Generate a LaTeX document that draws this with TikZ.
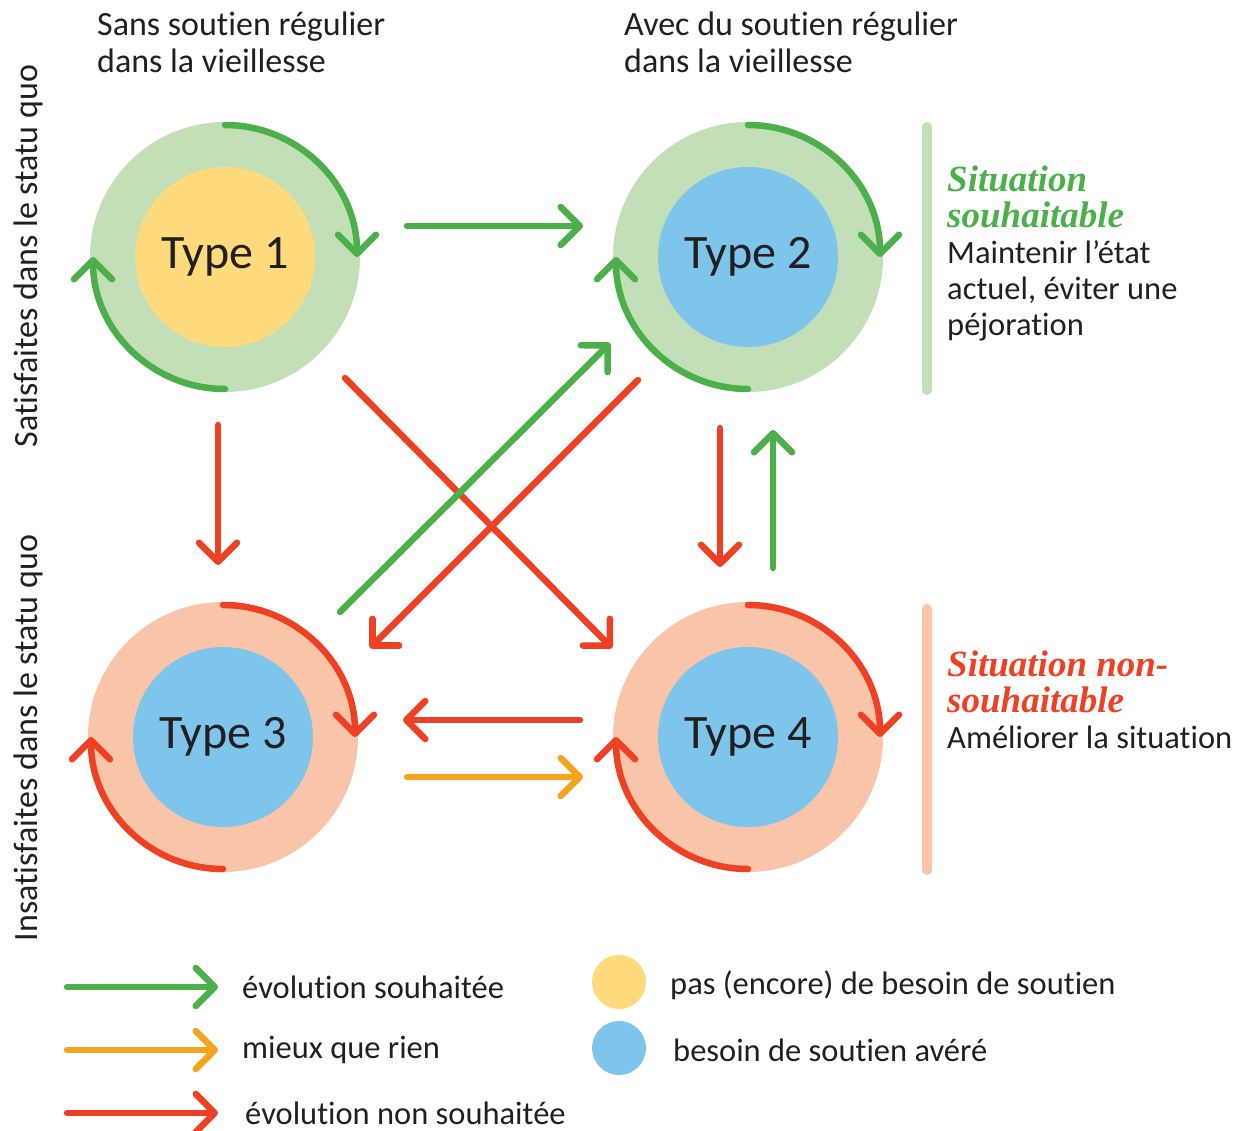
\documentclass[tikz,border=0pt]{standalone}
\usepackage{fontspec}
\setmainfont{Carlito}[RawFeature=-liga]
\newfontfamily\sitfont{Liberation Serif}
\usetikzlibrary{arrows.meta,calc}

\definecolor{ringgreen}{HTML}{C2DFB7}
\definecolor{okgreen}{HTML}{4BB04A}
\definecolor{coreyellow}{HTML}{FEDA7D}
\definecolor{coreblue}{HTML}{7DC5EB}
\definecolor{ringsalmon}{HTML}{F9C4A7}
\definecolor{badred}{HTML}{EE4124}
\definecolor{midorange}{HTML}{F6A31E}
\definecolor{ink}{HTML}{231F20}

\newcommand\sitline[2]{{\sitfont\bfseries\itshape\fontsize{37}{36}\selectfont\color{#1}#2}}

\tikzset{
  ring/.style={circle, minimum size=270pt, inner sep=0pt},
  core/.style={circle, minimum size=180pt, inner sep=0pt, text=ink,
    font=\fontsize{48}{48}\selectfont},
  lab/.style={text=ink, inner sep=0pt, align=left,
    font=\fontsize{32.5}{36}\selectfont},
  head/.style={lab, font=\fontsize{34}{37}\selectfont},
  arr/.style={line width=6.5pt, line cap=round,
    -{Straight Barb[length=19pt,width=38pt,round]}},
}

\begin{document}
\begin{tikzpicture}[x=1pt,y=1pt]
  \useasboundingbox (0,0) rectangle (1246,-1131);

  % rings and types
  \node[ring, fill=ringgreen]  (r1) at (225,-257) {};
  \node[ring, fill=ringgreen]  (r2) at (748,-257) {};
  \node[ring, fill=ringsalmon] (r3) at (223,-737) {};
  \node[ring, fill=ringsalmon] (r4) at (748,-737) {};
  \node[core, fill=coreyellow] (t1) at (r1) {Type 1};
  \node[core, fill=coreblue]   (t2) at (r2) {Type 2};
  \node[core, fill=coreblue]   (t3) at (r3) {Type 3};
  \node[core, fill=coreblue]   (t4) at (r4) {Type 4};

  % staying in place
  \foreach \n/\c in {t1/okgreen,t2/okgreen,t3/badred,t4/badred} {
    \draw[arr, \c] ($(\n)+(90:132)$) arc[start angle=90, end angle=0, radius=132];
    \draw[arr, \c] ($(\n)+(270:132)$) arc[start angle=270, end angle=180, radius=132];
  }

  % transitions
  \draw[arr, badred] ($(t1)+(120,-121)$) -- ($(t4)+(-136,89)$);
  \draw[arr, badred] ($(t2)+(-110,-123)$) -- ($(t3)+(147,89)$);
  \draw[arr, okgreen] ($(t3)+(117,125)$) -- ($(t2)+(-138,-86)$);
  \draw[arr, okgreen] ($(t1)+(182,31)$) -- ($(t2)+(-165,31)$);
  \draw[arr, badred] ($(t1)+(-7,-168)$) -- ($(t3)+(-5,172)$);
  \draw[arr, badred] ($(t2)+(-28,-171)$) -- ($(t4)+(-28,170)$);
  \draw[arr, okgreen] ($(t4)+(25,169)$) -- ($(t2)+(25,-173)$);
  \draw[arr, badred] ($(t4)+(-168,17)$) -- ($(t3)+(180,17)$);
  \draw[arr, midorange] ($(t3)+(184,-40)$) -- ($(t4)+(-165,-40)$);

  % headings
  \node[head, anchor=north west] (h1) at (97,-12) {Sans soutien régulier\\dans la vieillesse};
  \node[head, anchor=north west] (h2) at (624,-12) {Avec du soutien régulier\\dans la vieillesse};
  \node[head, rotate=90] (s1) at (28,-256) {Satisfaites dans le statu quo};
  \node[head, rotate=90] (s2) at (28,-738) {Insatisfaites dans le statu quo};

  % situations
  \draw[ringgreen, line width=10pt, line cap=round] (927,-127) -- (927,-390);
  \draw[ringsalmon, line width=10pt, line cap=round] (927,-609) -- (927,-870);
  \node[lab, anchor=north west] (g1) at (947,-166)
    {\sitline{okgreen}{Situation}\\
     \sitline{okgreen}{souhaitable}\\
     Maintenir l’état\\actuel, éviter une\\péjoration};
  \node[lab, anchor=north west] (g2) at (947,-651)
    {\sitline{badred}{Situation non-}\\
     \sitline{badred}{souhaitable}\\
     Améliorer la situation};

  % legend
  \node[lab, anchor=west] (l1) at (242,-987) {évolution souhaitée};
  \node[lab, anchor=west] (l2) at (242,-1050) {mieux que rien};
  \node[lab, anchor=west] (l3) at (245,-1113) {évolution non souhaitée};
  \draw[arr, okgreen]   ($(l1.west)+(-175,0)$) -- ($(l1.west)+(-24,0)$);
  \draw[arr, midorange] ($(l2.west)+(-175,0)$) -- ($(l2.west)+(-24,0)$);
  \draw[arr, badred]    ($(l3.west)+(-178,0)$) -- ($(l3.west)+(-27,0)$);
  \node[circle, fill=coreyellow, minimum size=54pt, inner sep=0pt] (d1) at (619,-982) {};
  \node[circle, fill=coreblue, minimum size=54pt, inner sep=0pt] (d2) at (619,-1048) {};
  \node[lab, anchor=west] (l4) at (670,-985) {pas (encore) de besoin de soutien};
  \node[lab, anchor=west] (l5) at (673,-1050) {besoin de soutien avéré};
\end{tikzpicture}
\end{document}
